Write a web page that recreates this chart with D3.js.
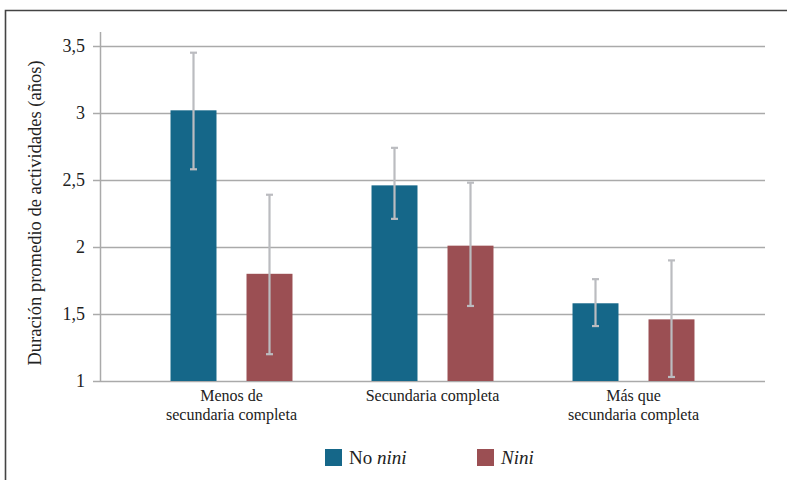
<!DOCTYPE html>
<html>
<head>
<meta charset="utf-8">
<script src="https://cdn.jsdelivr.net/npm/d3@7"></script>
<style>
body{margin:0;background:#fff;}
svg{display:block;}
</style>
</head>
<body>
<svg id="chart" width="787" height="480"></svg>
<script>
const categories = [["Menos de","secundaria completa"],["Secundaria completa"],["Más que","secundaria completa"]];
const seriesNames = ["No nini","Nini"];
const noNini = [3.02, 2.46, 1.58];
const nini = [1.80, 2.01, 1.46];
const noNiniLow = [2.58, 2.21, 1.41];
const noNiniHigh = [3.45, 2.74, 1.76];
const niniLow = [1.20, 1.56, 1.03];
const niniHigh = [2.39, 2.48, 1.90];
const yTicks = [1, 1.5, 2, 2.5, 3, 3.5];
const colors = ["#156789", "#9b4f53"];

const FONT = "'Liberation Serif', cursive";
const svg = d3.select("#chart");
// frame
svg.append("path").attr("d","M5.5,480 L5.5,10.5 L787,10.5").attr("fill","none").attr("stroke","#444").attr("stroke-width",1.6);

const y = d3.scaleLinear().domain([1,3.5]).range([381,46]);
const x0 = d3.scaleBand().domain(d3.range(categories.length)).range([131,734]);
const x1 = d3.scaleBand().domain([0,1]).range([0, x0.bandwidth()]).paddingInner(0.395).paddingOuter(0.52);

// gridlines
svg.append("g").selectAll("line").data(yTicks).join("line")
  .attr("x1",93).attr("x2",765)
  .attr("y1",d=>y(d)+0.5).attr("y2",d=>y(d)+0.5)
  .attr("stroke","#aaa").attr("stroke-width",1.5);
// y axis line
svg.append("line").attr("x1",100.5).attr("x2",100.5).attr("y1",32).attr("y2",381.5).attr("stroke","#aaa").attr("stroke-width",1.5);

// tick labels
const fmt = d => String(d).replace(".",",");
svg.append("g").selectAll("text").data(yTicks).join("text")
  .attr("font-family",FONT)
  .attr("x",85).attr("y",d=>y(d)+6).attr("text-anchor","end")
  .attr("font-size",18).attr("fill","#222").text(fmt);

// axis title
svg.append("text").attr("transform","translate(41,213) rotate(-90)")
  .attr("font-family",FONT)
  .attr("text-anchor","middle").attr("font-size",18.5).attr("fill","#222")
  .text("Duración promedio de actividades (años)");

// bars
const data = categories.map((c,i)=>[
  {s:0,v:noNini[i],lo:noNiniLow[i],hi:noNiniHigh[i]},
  {s:1,v:nini[i],lo:niniLow[i],hi:niniHigh[i]}
]);
const g = svg.append("g").selectAll("g").data(data).join("g")
  .attr("transform",(d,i)=>`translate(${x0(i)},0)`);
g.selectAll("rect").data(d=>d).join("rect")
  .attr("x",d=>x1(d.s)).attr("width",x1.bandwidth())
  .attr("y",d=>y(d.v)).attr("height",d=>y(1)-y(d.v))
  .attr("fill",d=>colors[d.s]);
// error bars
const eb = g.selectAll("g.eb").data(d=>d).join("g").attr("class","eb");
const cx = d => x1(d.s)+x1.bandwidth()/2;
eb.append("line").attr("x1",cx).attr("x2",cx).attr("y1",d=>y(d.hi)).attr("y2",d=>y(d.lo))
  .attr("stroke","#bbbcc0").attr("stroke-width",2.2);
eb.append("line").attr("x1",d=>cx(d)-3.5).attr("x2",d=>cx(d)+3.5).attr("y1",d=>y(d.hi)).attr("y2",d=>y(d.hi))
  .attr("stroke","#bbbcc0").attr("stroke-width",2.2);
eb.append("line").attr("x1",d=>cx(d)-3.5).attr("x2",d=>cx(d)+3.5).attr("y1",d=>y(d.lo)).attr("y2",d=>y(d.lo))
  .attr("stroke","#bbbcc0").attr("stroke-width",2.2);

// category labels
svg.append("g").selectAll("text").data(categories).join("text")
  .attr("font-family",FONT)
  .attr("x",(d,i)=>x0(i)+x0.bandwidth()/2).attr("y",401)
  .attr("text-anchor","middle").attr("font-size",16).attr("fill","#222")
  .each(function(d){
    const xx = d3.select(this).attr("x");
    d3.select(this).selectAll("tspan").data(d).join("tspan")
      .attr("x",xx).attr("dy",(t,j)=>j===0?0:19).text(t=>t);
  });

// legend
const leg = [{x:325,label:[["No ",false],["nini",true]]},{x:477,label:[["Nini",true]]}];
const lg = svg.append("g").selectAll("g").data(leg).join("g");
lg.append("rect").attr("x",d=>d.x).attr("y",449).attr("width",17).attr("height",17).attr("fill",(d,i)=>colors[i]);
lg.append("text").attr("font-family",FONT).attr("x",d=>d.x+24).attr("y",464).attr("font-size",19).attr("fill","#222")
  .each(function(d){
    d3.select(this).selectAll("tspan").data(d.label).join("tspan")
      .attr("font-style",t=>t[1]?"italic":"normal").text(t=>t[0]);
  });
</script>
</body>
</html>
